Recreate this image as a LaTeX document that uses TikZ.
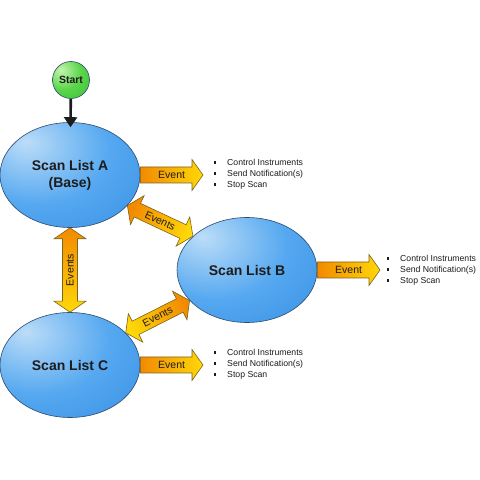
\documentclass[tikz,border=0pt]{standalone}
\usepackage{fontspec}
\setmainfont{Liberation Sans}
\usetikzlibrary{arrows.meta,shapes.geometric,calc}
\definecolor{blueHi}{HTML}{BCDDF8}
\definecolor{blueMid}{HTML}{55A8F0}
\definecolor{blueLo}{HTML}{2A84DE}
\definecolor{ellEdge}{HTML}{2B4A70}
\definecolor{greenHi}{HTML}{C6F5B0}
\definecolor{greenMid}{HTML}{5AD54A}
\definecolor{greenLo}{HTML}{2FB82C}
\definecolor{arrOrange}{HTML}{F28A00}
\definecolor{arrYellow}{HTML}{FFD808}
\definecolor{arrEdge}{HTML}{7A6420}
\definecolor{ink}{HTML}{1C1C1C}
\pgfdeclareradialshading{blueball}{\pgfpoint{-16bp}{16bp}}{color(0bp)=(blueHi); color(26bp)=(blueMid); color(62bp)=(blueLo); color(100bp)=(blueLo)}
\pgfdeclareradialshading{greenball}{\pgfpoint{-14bp}{14bp}}{color(0bp)=(greenHi); color(24bp)=(greenMid); color(58bp)=(greenLo); color(100bp)=(greenLo)}
\tikzset{
  scan/.style={ellipse, draw=ellEdge, line width=0.6pt, shade, shading=blueball,
    minimum width=140pt, minimum height=105pt, inner sep=0pt, align=center,
    font=\fontsize{14}{17}\selectfont\bfseries, text=ink},
  startnode/.style={circle, draw=ellEdge, line width=0.6pt, shade, shading=greenball,
    minimum size=37pt, inner sep=0pt, font=\fontsize{10.5}{12}\selectfont\bfseries, text=ink},
  startarrow/.style={line width=2.6pt, ink, -{Triangle[length=10pt,width=13pt]}, shorten >=-5pt},
  bigarrow/.style={draw=arrEdge, line width=0.6pt, line join=miter, top color=arrOrange, bottom color=arrYellow},
  arrlabel/.style={inner sep=0pt, font=\fontsize{10.5}{12}\selectfont, text=ink},
  bullets/.style={inner sep=0pt, align=left, font=\fontsize{8.7}{11}\selectfont, text=ink}
}
\newcommand\blt{\makebox[13pt][l]{\rule[1.6pt]{2.2pt}{2.2pt}}}
\newcommand\getgeom[2]{%
  \path let \p1=(#1), \p2=(#2) in \pgfextra{%
    \pgfmathsetmacro\tmpa{atan2(\y2-\y1,\x2-\x1)}%
    \pgfmathsetmacro\tmpl{veclen(\x2-\x1,\y2-\y1)}%
    \xdef\ba{\tmpa}\xdef\bl{\tmpl}\xdef\bx{\x1}\xdef\by{\y1}};}
% #1 from, #2 to, #3 label node name, #4 label text, #5 double (1) or single (0), #6 shading offset (90: orange at start, -90: orange at end)
\newcommand\blockarrow[6]{%
  \getgeom{#1}{#2}%
  \pgfmathsetmacro\sa{\ba+#6}%
  \begin{scope}[shift={(\bx,\by)}, rotate=\ba]
    \ifnum#5=1
      \path[bigarrow, shading angle=\sa] (11,-7.5) -- ({\bl-11},-7.5) -- ({\bl-11},-16) -- (\bl,0) -- ({\bl-11},16) -- ({\bl-11},7.5) -- (11,7.5) -- (11,16) -- (0,0) -- (11,-16) -- cycle;
    \else
      \path[bigarrow, shading angle=\sa] (0,-8) -- ({\bl-11},-8) -- ({\bl-11},-15.5) -- (\bl,0) -- ({\bl-11},15.5) -- ({\bl-11},8) -- (0,8) -- cycle;
    \fi
    \node[arrlabel, transform shape] (#3) at ({\bl/2},0) {#4};
  \end{scope}}
\begin{document}
\begin{tikzpicture}[x=1pt,y=1pt]
\useasboundingbox (0,0) rectangle (480,480);
\fill[white] (0,0) rectangle (480,480);
% nodes
\node[startnode] (S) at (71,400) {Start};
\node[scan] (A) at (70,305) {Scan List A\\(Base)};
\node[scan] (B) at (247,210) {Scan List B};
\node[scan] (C) at (70,115) {Scan List C};
% end points of the event arrows
\coordinate (tA) at (203,305);
\coordinate (tB) at (380,210);
\coordinate (tC) at (203,115);
% start arrow
\draw[startarrow] (S) -- (A);
% event arrows
\blockarrow{A.east}{tA}{eA}{Event}{0}{90}
\blockarrow{B.east}{tB}{eB}{Event}{0}{90}
\blockarrow{C.east}{tC}{eC}{Event}{0}{90}
% events between scan lists
\blockarrow{C.north}{A.south}{eAC}{Events}{1}{-90}
\blockarrow{A.-28}{B.148}{eAB}{Events}{1}{90}
\blockarrow{C.30}{B.208}{eCB}{Events}{1}{-90}
% bullet lists
\node[bullets, anchor=west] (LA) at (214,306) {\blt Control Instruments\\\blt Send Notification(s)\\\blt Stop Scan};
\node[bullets, anchor=west] (LB) at (387,210) {\blt Control Instruments\\\blt Send Notification(s)\\\blt Stop Scan};
\node[bullets, anchor=west] (LC) at (214,116) {\blt Control Instruments\\\blt Send Notification(s)\\\blt Stop Scan};
\end{tikzpicture}
\end{document}
